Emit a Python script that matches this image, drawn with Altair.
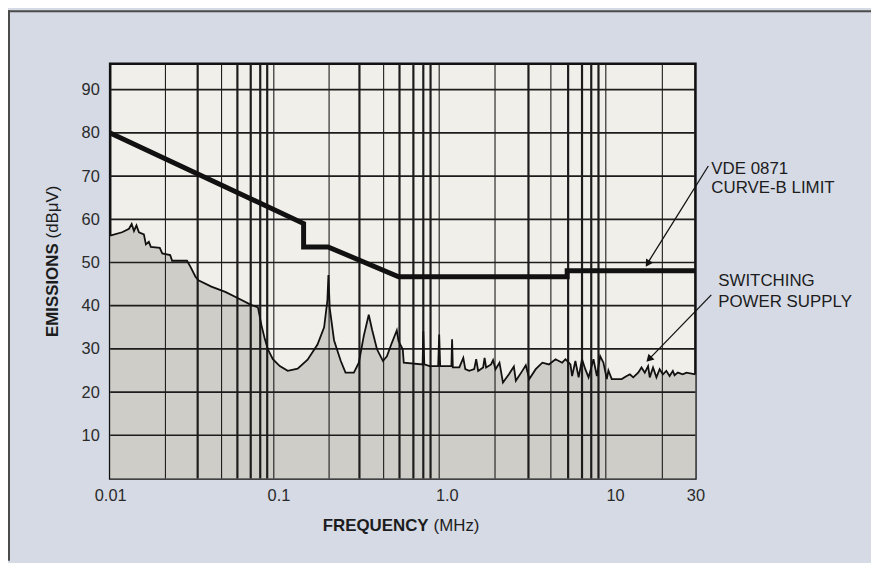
import altair as alt
import pandas as pd

# ---- data ----
freq_mhz = [
    0.0100, 0.01177, 0.01294, 0.01342, 0.01385, 0.01433, 0.01482, 0.01586, 0.0163, 0.01697,
    0.01744, 0.01971, 0.02039, 0.02273, 0.02335, 0.02862, 0.03001, 0.03212, 0.03345, 0.03991,
    0.04827, 0.05756, 0.06867, 0.07552, 0.07918, 0.08306, 0.0865, 0.09258, 0.1018, 0.1135,
    0.1300, 0.1489, 0.1705, 0.1867, 0.1953, 0.198, 0.2015, 0.2138, 0.2339, 0.2502,
    0.2805, 0.3002, 0.3212, 0.3438, 0.3596, 0.3848, 0.4174, 0.4407, 0.4716, 0.5047,
    0.5165, 0.5474, 0.5549, 0.7182, 0.7251, 0.735, 0.7898, 0.8888, 0.901, 0.9133,
    1.065, 1.075, 1.086, 1.187, 1.253, 1.288, 1.359, 1.455, 1.495, 1.536,
    1.644, 1.677, 1.712, 1.832, 1.883, 1.948, 2.056, 2.156, 2.339, 2.503,
    2.572, 2.809, 2.946, 3.09, 3.375, 3.696, 4.042, 4.426, 4.846, 5.069,
    5.426, 5.552, 5.806, 6.073, 6.359, 6.649, 6.954, 7.44, 7.791, 8.15,
    8.523, 8.925, 9.122, 9.552, 10.94, 11.71, 12.24, 12.81, 13.71, 14.35,
    15.01, 15.7, 16.06, 16.8, 17.6, 18.39, 19.24, 20.15, 21.07, 22.03,
    22.55, 23.58, 25.23, 26.53, 30.0,
]
emission_db = [
    56.2, 57.0, 57.8, 58.9, 57.3, 58.6, 57.0, 56.5, 54.2, 54.8,
    53.6, 53.4, 52.1, 51.7, 50.4, 50.4, 49.0, 46.7, 45.9, 44.4,
    43.2, 41.7, 40.2, 39.6, 35.5, 32.2, 29.9, 27.6, 26.0, 24.9,
    25.4, 27.5, 31.0, 35.0, 41.3, 47.1, 39.5, 32.0, 27.3, 24.5,
    24.5, 26.8, 33.0, 37.9, 34.5, 29.9, 27.2, 28.3, 31.4, 34.3,
    31.8, 29.9, 26.8, 26.4, 34.1, 26.4, 26.0, 26.0, 33.3, 26.0,
    26.0, 32.2, 25.7, 25.7, 27.9, 25.3, 24.9, 25.3, 27.6, 24.9,
    25.7, 27.9, 25.7, 26.4, 27.4, 25.3, 26.8, 22.2, 24.1, 25.9,
    22.6, 24.9, 26.2, 23.0, 25.3, 26.8, 26.4, 27.6, 26.8, 27.6,
    26.4, 23.7, 27.2, 23.4, 27.6, 25.3, 23.4, 27.6, 23.7, 28.3,
    26.8, 23.0, 25.0, 23.0, 23.0, 23.7, 24.1, 23.4, 24.5, 25.7,
    24.5, 26.0, 23.4, 25.7, 23.4, 25.3, 24.1, 24.9, 23.7, 24.9,
    23.9, 24.5, 24.1, 24.5, 24.1,
]

# VDE 0871 curve-B limit
limit_freq = [0.01, 0.141, 0.141, 0.197, 0.517, 5.19, 5.19, 30.0]
limit_db = [80.0, 59.0, 53.6, 53.6, 46.7, 46.7, 48.1, 48.1]

# graph-paper grid lines (frequency, as drawn on the reference)
grid_thin = [0.0213, 0.0459, 0.0938, 0.1998, 0.4214, 0.901, 1.934, 4.153, 8.805, 19.08]
grid_thick = [0.0331, 0.0570, 0.0684, 0.0779, 0.0857, 0.3027, 0.5236, 0.6331, 0.7251, 0.8006,
              3.056, 5.258, 6.359, 7.214, 7.964]
grid_db = [10, 20, 30, 40, 50, 60, 70, 80, 90]

x_ticks = [0.01, 0.1, 1, 10, 30]
x_tick_labels = ["0.01", "0.1", "1.0", "10", "30"]
y_ticks = [10, 20, 30, 40, 50, 60, 70, 80, 90]

annotations = ["VDE 0871", "CURVE-B LIMIT", "SWITCHING", "POWER SUPPLY"]
y_title = ["EMISSIONS", "(dBμV)"]
x_title = ["FREQUENCY", "(MHz)"]

# ---- chart ----
FONT = "Liberation Sans"
INK = "#1c1c1c"
W, H = 590, 418

xs = alt.Scale(type="log", domain=[0.01, 30], nice=False)
ys = alt.Scale(domain=[0, 96], nice=False, zero=False)

label_expr = ""
for v, t in zip(x_ticks, x_tick_labels):
    label_expr += f"datum.value == {v} ? '{t}' : "
label_expr += "''"

x_axis = alt.Axis(values=x_ticks, labelExpr=label_expr, grid=False, domain=False, ticks=False,
                  title=None, labelFont=FONT, labelFontSize=16.5, labelColor="#2a2a2a",
                  labelPadding=9, labelFlush=False)
y_axis = alt.Axis(values=y_ticks, grid=False, domain=False, ticks=False, title=None,
                  labelFont=FONT, labelFontSize=16.5, labelColor="#2a2a2a", labelPadding=11)

X = alt.X("f:Q", scale=xs, axis=x_axis)
Y = alt.Y("db:Q", scale=ys, axis=y_axis)

emis = pd.DataFrame({"f": freq_mhz, "db": emission_db, "i": range(len(freq_mhz))})
lim = pd.DataFrame({"f": limit_freq, "db": limit_db, "i": range(len(limit_freq))})

area = alt.Chart(emis).mark_area(color="#cfcdc7", opacity=1).encode(x=X, y=Y)

vthin = alt.Chart(pd.DataFrame({"f": grid_thin})).mark_rule(color=INK, strokeWidth=1.1).encode(x=X)
vthick = alt.Chart(pd.DataFrame({"f": grid_thick})).mark_rule(color=INK, strokeWidth=2.2).encode(x=X)
hgrid = alt.Chart(pd.DataFrame({"db": grid_db})).mark_rule(color=INK, strokeWidth=1.7).encode(y=Y)

eline = alt.Chart(emis).mark_line(color="#111", strokeWidth=1.8).encode(x=X, y=Y, order="i:Q")
lline = alt.Chart(lim).mark_line(color="#111", strokeWidth=5).encode(x=X, y=Y, order="i:Q")

one = pd.DataFrame({"k": [0]})

def rule(x1, y1, x2, y2, w=1.3, c="#111"):
    return alt.Chart(one).mark_rule(color=c, strokeWidth=w).encode(
        x=alt.value(x1), y=alt.value(y1), x2=alt.value(x2), y2=alt.value(y2))

def head(x, y, ang):
    return alt.Chart(one).mark_point(shape="triangle", filled=True, size=70, angle=ang,
                                     color="#111", opacity=1).encode(x=alt.value(x), y=alt.value(y))

def txt(t, x, y, bold=False, ang=0, align="left", size=17):
    return alt.Chart(one).mark_text(text=t, font=FONT, fontSize=size, color=INK, align=align,
                                    baseline="alphabetic" if ang == 0 else "middle",
                                    angle=ang, fontWeight="bold" if bold else "normal").encode(
        x=alt.value(x), y=alt.value(y))

arrows = [
    rule(603, 103, 542, 200.6), head(542.5, 200.5, 212),
    rule(606, 233, 544, 297), head(544, 297, 224),
]
labels = [
    txt(annotations[0], 606, 111.3), txt(annotations[1], 606, 130.7),
    txt(annotations[2], 613, 223.7), txt(annotations[3], 613, 244.7),
    txt(y_title[0], -58, 181, bold=True, ang=270, align="right"),
    txt(y_title[1], -58, 176, ang=270, align="left"),
    txt(x_title[0], 321, 471, bold=True, align="right"),
    txt(x_title[1], 326, 471, align="left"),
]
frame = [rule(-103, -53, 767, -53, w=2, c="#4a4a4a"), rule(-102, -54, -102, 501, w=2, c="#4a4a4a")]

chart = alt.layer(area, vthin, vthick, hgrid, eline, lline, *arrows, *labels, *frame).properties(
    width=W, height=H,
    autosize=alt.AutoSizeParams(type="none"),
    padding={"left": 103, "top": 54, "right": 177, "bottom": 83},
    background="#d5dae5",
).configure_view(stroke="#111", strokeWidth=2.6, fill="#f1efe9")

chart.save("out.html", embed_options={"renderer": "svg", "actions": False})
